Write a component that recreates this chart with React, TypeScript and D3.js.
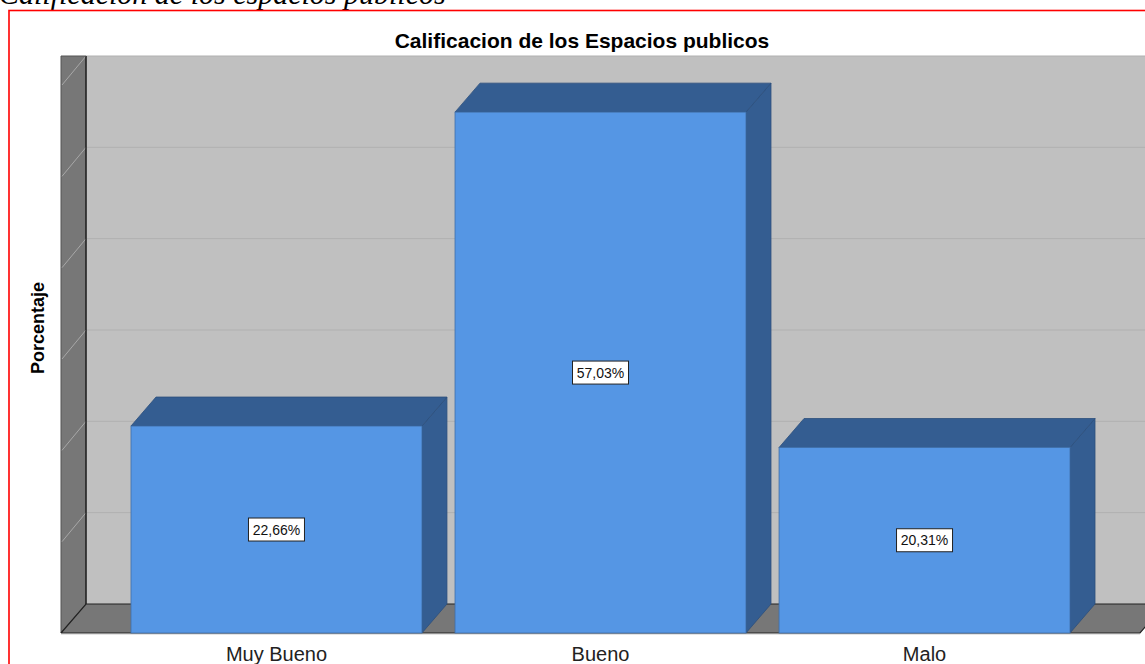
import React from "react";
import * as d3 from "d3";

const categories = ["Muy Bueno", "Bueno", "Malo"];
const values = [22.66, 57.03, 20.31];
const valueLabels = ["22,66%", "57,03%", "20,31%"];
const gridTicks = [10, 20, 30, 40, 50, 60];

const W = 1145;
const H = 664;
const DX = 25; // depth offset
const DY = -29;

const FRONT = "#5596e4";
const DARK = "#345d91";
const WALL = "#777777";
const BACK = "#c0c0c0";

export default function App() {
  const x = d3
    .scaleBand<string>()
    .domain(categories)
    .range([61, 1140])
    .paddingInner(0.102)
    .paddingOuter(0.216);

  const y = d3.scaleLinear().domain([0, 60]).range([633, 85]);

  const y0 = y(0);
  const top = y(60) + DY;
  const line = d3.line();

  return (
    <svg
      width={W}
      height={H}
      style={{ position: "absolute", left: 0, top: 0, fontFamily: "Arial, 'Liberation Sans', sans-serif" }}
    >
      {/* caption above the frame, mostly cut */}
      <text
        x={-1}
        y={4}
        fontFamily="'Liberation Serif', 'Times New Roman', serif"
        fontStyle="italic"
        fontSize={30}
      >
        Calificación de los espacios públicos
      </text>
      <rect x={9} y={10.5} width={1200} height={700} fill="#fff" stroke="#ff0000" strokeWidth={1.6} />

      <text x={582} y={48} textAnchor="middle" fontWeight="bold" fontSize={21}>
        Calificacion de los Espacios publicos
      </text>

      {/* back plane */}
      <rect x={61 + DX} y={top} width={W} height={y0 + DY - top} fill={BACK} />
      {gridTicks.map((t) => (
        <line key={"g" + t} x1={61 + DX} x2={W} y1={y(t) + DY} y2={y(t) + DY} stroke="#b0b0b0" strokeWidth={1} />
      ))}

      {/* left wall */}
      <path
        d={line([[61, top], [61 + DX, top], [61 + DX, y0 + DY], [61, y0], [61, top]])!}
        fill={WALL}
        stroke="#555"
        strokeWidth={1}
      />
      {gridTicks.map((t) => (
        <line
          key={"w" + t}
          x1={61 + DX}
          y1={y(t) + DY}
          x2={62}
          y2={y(t)}
          stroke="#a8a8a8"
          strokeWidth={1}
        />
      ))}
      <line x1={61 + DX} x2={61 + DX} y1={top} y2={y0 + DY} stroke="#111" strokeWidth={1.2} />

      {/* floor */}
      <path
        d={line([[61, y0], [61 + DX, y0 + DY], [1140 + DX, y0 + DY], [1140, y0], [61, y0]])!}
        fill={WALL}
        stroke="#222"
        strokeWidth={1.2}
      />
      <line x1={61} x2={1140} y1={y0 + 1.5} y2={y0 + 1.5} stroke="#e4e4e4" strokeWidth={1} />

      {/* bars */}
      {categories.map((c, i) => {
        const x0 = x(c)!;
        const x1 = x0 + x.bandwidth();
        const yt = y(values[i]);
        const topFace = line([[x0, yt], [x0 + DX, yt + DY], [x1 + DX, yt + DY], [x1, yt], [x0, yt]])!;
        const sideFace = line([[x1, yt], [x1 + DX, yt + DY], [x1 + DX, y0 + DY], [x1, y0], [x1, yt]])!;
        const cx = x0 + x.bandwidth() / 2;
        const cy = (yt + y0) / 2;
        return (
          <g key={c}>
            <path d={sideFace} fill={DARK} stroke="#2c4f7c" strokeWidth={0.8} />
            <path d={topFace} fill={DARK} stroke="#2c4f7c" strokeWidth={0.8} />
            <rect x={x0} y={yt} width={x1 - x0} height={y0 - yt} fill={FRONT} stroke="#3f6fa8" strokeWidth={0.8} />
            <rect x={cx - 28} y={cy - 11.5} width={56} height={23} fill="#fff" stroke="#222" strokeWidth={1} />
            <text x={cx} y={cy + 5} textAnchor="middle" fontSize={14} fill="#111">
              {valueLabels[i]}
            </text>
            <text x={cx} y={661} textAnchor="middle" fontSize={20} fill="#222">
              {c}
            </text>
          </g>
        );
      })}

      <text
        transform="translate(44,328) rotate(-90)"
        textAnchor="middle"
        fontWeight="bold"
        fontSize={18}
      >
        Porcentaje
      </text>
    </svg>
  );
}
